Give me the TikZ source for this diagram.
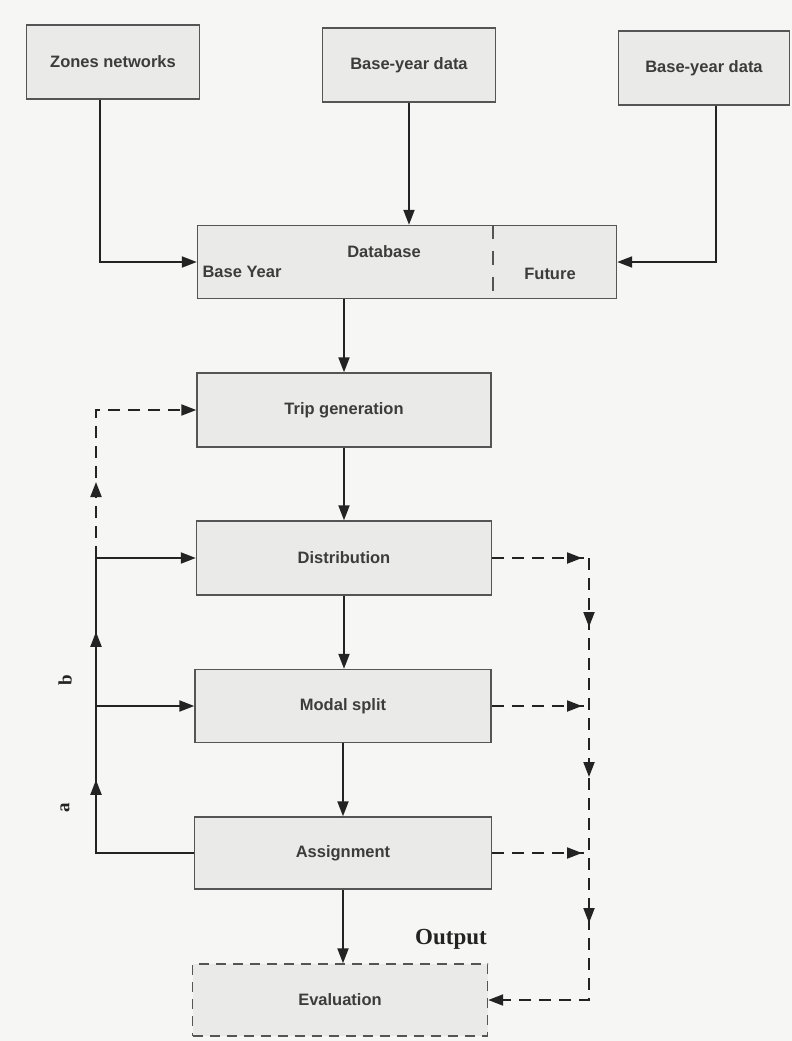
\documentclass[tikz,border=0pt]{standalone}
\usepackage{fontspec}
\setmainfont{Liberation Sans}
\newfontfamily\serifb{Liberation Serif}
\usetikzlibrary{arrows.meta,decorations.markings,calc}
\definecolor{bg}{RGB}{246,246,244}
\definecolor{boxfill}{RGB}{234,234,232}
\definecolor{boxline}{RGB}{85,85,85}
\definecolor{ink}{RGB}{35,35,35}
\definecolor{txt}{RGB}{60,60,60}
\tikzset{
  Head/.tip={Triangle[length=15pt,width=11pt]},
  box/.style={draw=boxline,line width=1.4pt,fill=boxfill,inner sep=0pt,
    font=\fontsize{16.5}{19}\selectfont\bfseries,text=txt},
  lbl/.style={inner sep=0pt,font=\fontsize{16.5}{19}\selectfont\bfseries,text=txt},
  conn/.style={draw=ink,line width=2pt},
  arr/.style={conn,-Head},
  dsh/.style={dash pattern=on 12pt off 8pt},
}
\begin{document}
\begin{tikzpicture}[x=1pt,y=-1pt]
\fill[bg] (0,0) rectangle (792,1041);
\useasboundingbox (0,0) rectangle (792,1041);

% top boxes
\node[box,minimum width=173pt,minimum height=74pt] (zones) at (113,62) {Zones networks};
\node[box,minimum width=173pt,minimum height=74pt] (by1) at (409,65) {Base-year data};
\node[box,minimum width=171pt,minimum height=74pt] (by2) at (704,68) {Base-year data};

% database
\node[box,minimum width=419pt,minimum height=73pt] (db) at (407,262) {};
\draw[boxline,line width=1.4pt,dash pattern=on 14pt off 12pt]
  ($(db.north west)+(296,0)$) -- ($(db.south west)+(296,0)$);
\node[lbl] (dbt) at (384,252) {Database};
\node[lbl] (bty) at (242,272) {Base Year};
\node[lbl] (fut) at (550,274) {Future};

% main chain
\node[box,minimum width=294pt,minimum height=74pt] (trip) at (344,410) {Trip generation};
\node[box,minimum width=295pt,minimum height=74pt] (dist) at (344,558) {Distribution};
\node[box,minimum width=296pt,minimum height=73pt] (modal) at (343,706) {Modal split};
\node[box,minimum width=297pt,minimum height=72pt] (assign) at (343,853) {Assignment};
\node[box,draw=boxline,dash pattern=on 10pt off 7pt,minimum width=295pt,minimum height=72pt] (eval) at (340,1000) {Evaluation};

\node[inner sep=0pt,font=\serifb\bfseries\fontsize{23}{25}\selectfont,text=ink] (out) at (451,939) {Output};

% input connectors
\draw[arr] ([xshift=-13pt]zones.south) |- (db.west);
\draw[arr] (by1.south) -- (by1.south |- db.north);
\draw[arr] ([xshift=12pt]by2.south) |- (db.east);

% chain connectors
\draw[arr] (trip.north |- db.south) -- (trip.north);
\draw[arr] (trip.south) -- (trip.south |- dist.north);
\draw[arr] (dist.south) -- (dist.south |- modal.north);
\draw[arr] (modal.south) -- (modal.south |- assign.north);
\draw[arr] (assign.south) -- (assign.south |- eval.north);

% left feedback
\coordinate (lm) at (96,706);
\coordinate (lb) at (96,558);
\draw[conn,postaction={decorate},decoration={markings,
    mark=at position 171pt with {\arrow{Head}},
    mark=at position 319pt with {\arrow{Head}}}]
  (assign.west) -| (lb);
\draw[arr] (lm) -- (modal.west);
\draw[arr] (lb) -- (dist.west);
\draw[arr,dsh,postaction={decorate},decoration={markings,
    mark=at position 76pt with {\arrow{Head}}}]
  (lb) |- (trip.west);

\node[inner sep=0pt,rotate=90,font=\serifb\bfseries\fontsize{19}{20}\selectfont,text=ink] (la) at (65,808) {a};
\node[inner sep=0pt,rotate=90,font=\serifb\bfseries\fontsize{19}{20}\selectfont,text=ink] (lbb) at (65,680) {b};

% right feedback
\coordinate (r1) at (589,558);
\draw[conn,dsh,postaction={decorate},decoration={markings,
    mark=at position -7pt with {\arrow{Head}}}]
  (dist.east) -- (r1);
\draw[conn,dsh,postaction={decorate},decoration={markings,
    mark=at position -7pt with {\arrow{Head}}}]
  (modal.east) -- (modal.east -| r1);
\draw[conn,dsh,postaction={decorate},decoration={markings,
    mark=at position -7pt with {\arrow{Head}}}]
  (assign.east) -- (assign.east -| r1);
\draw[arr,dsh,postaction={decorate},decoration={markings,
    mark=at position 69pt with {\arrow{Head}},
    mark=at position 219pt with {\arrow{Head}},
    mark=at position 365pt with {\arrow{Head}}}]
  (r1) |- (eval.east);
\end{tikzpicture}
\end{document}
